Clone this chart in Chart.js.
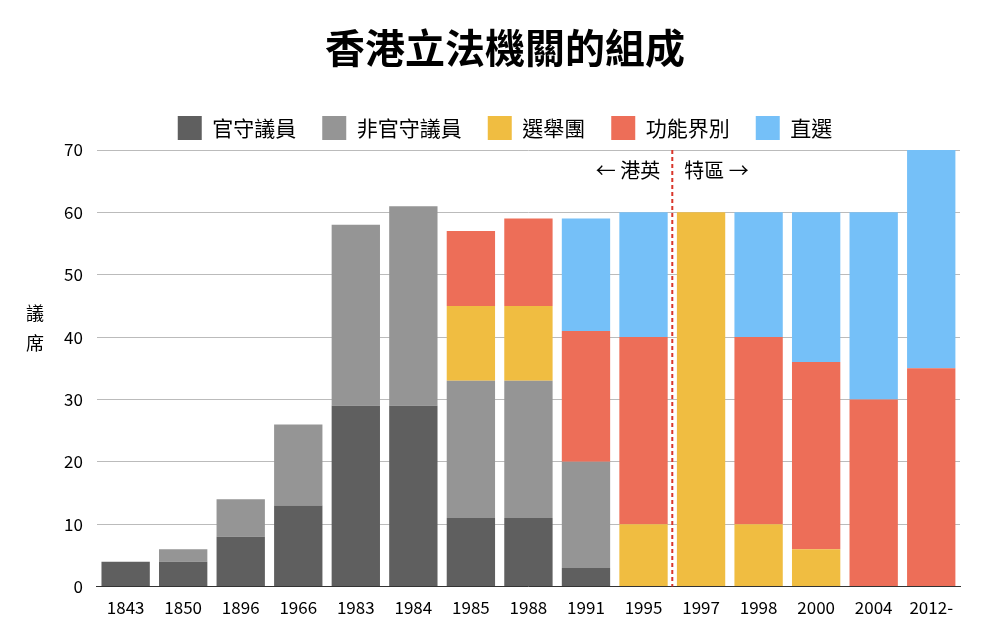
<!DOCTYPE html>
<html>
<head>
<meta charset="utf-8">
<script src="https://cdn.jsdelivr.net/npm/chart.js@4/dist/chart.umd.min.js"></script>
<style>
  html, body { margin: 0; padding: 0; background: #fff; }
  #wrap { width: 986px; height: 629px; }
</style>
</head>
<body>
<div id="wrap"><canvas id="chart"></canvas></div>
<script>
// Datos
const years = ["1843", "1850", "1896", "1966", "1983", "1984", "1985", "1988", "1991", "1995", "1997", "1998", "2000", "2004", "2012-"];
const official = [4, 4, 8, 13, 29, 29, 11, 11, 3, 0, 0, 0, 0, 0, 0];
const unofficial = [0, 2, 6, 13, 29, 32, 22, 22, 17, 0, 0, 0, 0, 0, 0];
const electoral = [0, 0, 0, 0, 0, 0, 12, 12, 0, 10, 60, 10, 6, 0, 0];
const functional = [0, 0, 0, 0, 0, 0, 12, 14, 21, 30, 0, 30, 30, 30, 35];
const direct = [0, 0, 0, 0, 0, 0, 0, 0, 18, 20, 0, 20, 24, 30, 35];
const yTicks = [0, 10, 20, 30, 40, 50, 60, 70];

const FONT = "'Noto Sans CJK TC', 'Noto Sans', sans-serif";

// Línea de traspaso y texto del eje Y
const handoverPlugin = {
  id: "handover",
  afterDatasetsDraw(chart) {
    const { ctx, chartArea, scales } = chart;
    const x = (scales.x.getPixelForValue(9) + scales.x.getPixelForValue(10)) / 2;
    ctx.save();
    ctx.strokeStyle = "#d9362b";
    ctx.lineWidth = 2;
    ctx.setLineDash([4, 3]);
    ctx.beginPath();
    ctx.moveTo(x, chartArea.top);
    ctx.lineTo(x, chartArea.bottom);
    ctx.stroke();
    ctx.setLineDash([]);
    ctx.fillStyle = "#000";
    ctx.font = "20px " + FONT;
    ctx.textBaseline = "middle";
    const ty = chartArea.top + 20;
    ctx.textAlign = "right";
    ctx.fillText("← 港英", x - 12, ty);
    ctx.textAlign = "left";
    ctx.fillText("特區 →", x + 12, ty);
    // Título del eje Y en vertical
    ctx.textAlign = "center";
    ctx.font = "18px " + FONT;
    ctx.fillText("議", 35, 313);
    ctx.fillText("席", 35, 343);
    ctx.restore();
  },
};

const makeSet = (label, data, color) => ({
  label, data, backgroundColor: color, borderWidth: 0,
  barPercentage: 0.84, categoryPercentage: 1,
});

new Chart(document.querySelector("#chart").getContext("2d"), {
  type: "bar",
  data: {
    labels: years,
    datasets: [
      makeSet("官守議員", official, "#5f5f5f"),
      makeSet("非官守議員", unofficial, "#959595"),
      makeSet("選舉團", electoral, "#f0bd41"),
      makeSet("功能界別", functional, "#ed6e58"),
      makeSet("直選", direct, "#75c0f8"),
    ],
  },
  options: {
    responsive: true,
    maintainAspectRatio: false,
    animation: false,
    layout: { padding: { left: 50, right: 26, top: 10, bottom: 8 } },
    scales: {
      x: {
        stacked: true,
        grid: { display: false },
        border: { color: "#333" },
        ticks: { color: "#000", font: { size: 17, family: FONT }, maxRotation: 0, autoSkip: false },
      },
      y: {
        stacked: true,
        min: 0, max: 70,
        afterBuildTicks: (axis) => { axis.ticks = yTicks.map((v) => ({ value: v })); },
        grid: { color: "#bbb", drawTicks: false },
        border: { display: false },
        ticks: { color: "#000", padding: 14, font: { size: 17, family: FONT } },
      },
    },
    plugins: {
      title: {
        display: true,
        text: "香港立法機關的組成",
        color: "#000",
        font: { size: 40, weight: "bold", family: FONT },
        padding: { top: 14, bottom: 18 },
      },
      legend: {
        display: true,
        labels: {
          color: "#000",
          boxWidth: 24, boxHeight: 24, padding: 26,
          font: { size: 21, family: FONT },
        },
      },
      tooltip: { enabled: false },
    },
  },
  plugins: [handoverPlugin],
});
</script>
</body>
</html>
